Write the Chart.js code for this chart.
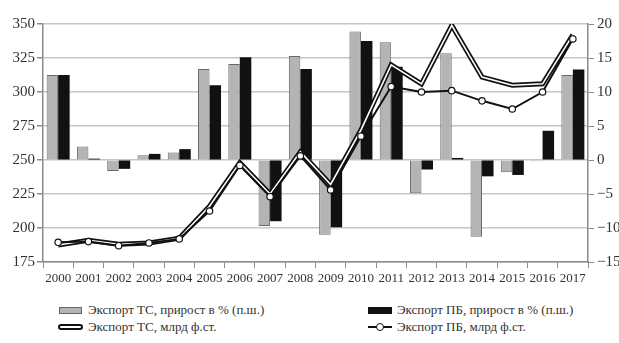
<!DOCTYPE html>
<html>
<head>
<meta charset="utf-8">
<script src="https://cdn.jsdelivr.net/npm/chart.js@4"></script>
<style>
  html, body { margin: 0; padding: 0; background: #fff; }
  #wrap { position: relative; width: 619px; height: 343px; overflow: hidden; font-family: "Liberation Serif", serif; color: #333; }
  #chartBox { position: absolute; left: 0; top: 0; width: 619px; height: 290px; }
  .lg { position: absolute; font-size: 13px; line-height: 14px; white-space: nowrap; color: #333; }
  .sym { position: absolute; box-sizing: border-box; }
</style>
</head>
<body>
<div id="wrap">
  <div id="chartBox"><canvas id="c" width="619" height="290"></canvas></div>

  <div class="sym" style="left:59px; top:307px; width:23px; height:7px; background:#b4b4b4; border:1px solid #666;"></div>
  <div class="lg" id="l1" style="left:88px; top:303px;"></div>
  <div class="sym" style="left:368px; top:307px; width:24px; height:7px; background:#111; border:1px solid #111;"></div>
  <div class="lg" id="l2" style="left:397px; top:303px;"></div>

  <div class="sym" style="left:58px; top:324px; width:25px; height:6px; background:#fff; border:2px solid #111; border-radius:3px;"></div>
  <div class="lg" id="l3" style="left:88px; top:320px;"></div>
  <div class="sym" style="left:368px; top:326px; width:24px; height:2px; background:#111;"></div>
  <div class="sym" style="left:376px; top:323px; width:8px; height:8px; background:#fff; border:1.5px solid #111; border-radius:50%;"></div>
  <div class="lg" id="l4" style="left:397px; top:320px;"></div>
</div>
<script>
// ---- data ----
const years = ["2000","2001","2002","2003","2004","2005","2006","2007","2008","2009","2010","2011","2012","2013","2014","2015","2016","2017"];
const tcGrowth = [12.5, 2.0, -1.6, 0.7, 1.1, 13.4, 14.1, -9.7, 15.3, -11.0, 18.9, 17.3, -4.9, 15.7, -11.3, -1.8, -0.2, 12.5];
const pbGrowth = [12.5, 0.2, -1.3, 0.9, 1.6, 11.0, 15.1, -9.0, 13.4, -9.9, 17.5, 13.7, -1.4, 0.3, -2.4, -2.2, 4.3, 13.3];
const tcExport = [187.5, 191, 188, 189, 192.5, 216, 248, 225, 256, 232, 272, 320, 306, 349, 311, 305, 306, 342];
const pbExport = [189.5, 190, 187, 189, 192, 212.5, 246, 223, 253, 228, 267.5, 304, 300, 301, 293.5, 287.5, 300, 339];
const legendLabels = ["Экспорт ТС, прирост в % (п.ш.)", "Экспорт ПБ, прирост в % (п.ш.)", "Экспорт ТС, млрд ф.ст.", "Экспорт ПБ, млрд ф.ст."];

document.getElementById('l1').textContent = legendLabels[0];
document.getElementById('l2').textContent = legendLabels[1];
document.getElementById('l3').textContent = legendLabels[2];
document.getElementById('l4').textContent = legendLabels[3];

const serif = "'Liberation Serif', 'Times New Roman', serif";
const axisCol = '#8a8a8a';

new Chart(document.getElementById('c'), {
  type: 'bar',
  data: {
    labels: years,
    datasets: [
      { type: 'line', label: legendLabels[3], data: pbExport, yAxisID: 'y', order: 1,
        borderColor: '#111', borderWidth: 2, tension: 0,
        pointRadius: 3.2, pointBackgroundColor: '#fff', pointBorderColor: '#111', pointBorderWidth: 1.2 },
      { type: 'line', label: legendLabels[2] + ' (inner)', data: tcExport, yAxisID: 'y', order: 2,
        borderColor: '#fff', borderWidth: 1.6, tension: 0, pointRadius: 0 },
      { type: 'line', label: legendLabels[2], data: tcExport, yAxisID: 'y', order: 3,
        borderColor: '#111', borderWidth: 5, tension: 0, pointRadius: 0 },
      { type: 'bar', label: legendLabels[0], data: tcGrowth, yAxisID: 'y2', order: 10,
        backgroundColor: '#b4b4b4', borderColor: '#6a6a6a', borderWidth: 1,
        categoryPercentage: 0.76, barPercentage: 1 },
      { type: 'bar', label: legendLabels[1], data: pbGrowth, yAxisID: 'y2', order: 11,
        backgroundColor: '#111', borderColor: '#111', borderWidth: 0,
        categoryPercentage: 0.76, barPercentage: 1 }
    ]
  },
  options: {
    responsive: false,
    animation: false,
    devicePixelRatio: 1,
    layout: { padding: { top: 24, left: 0, right: 0, bottom: 0 } },
    plugins: { legend: { display: false }, tooltip: { enabled: false } },
    scales: {
      x: {
        grid: { offset: true, drawOnChartArea: false, drawTicks: true, tickLength: 6, color: axisCol, lineWidth: 1 },
        border: { color: axisCol, width: 1.5 },
        ticks: { font: { family: serif, size: 13 }, color: '#333', padding: 3, maxRotation: 0, autoSkip: false },
        afterFit: s => { s.height = 28; }
      },
      y: {
        position: 'left', min: 175, max: 350,
        grid: { color: '#c6c6c6', lineWidth: 1.5, tickLength: 6, tickColor: axisCol },
        border: { color: axisCol, width: 1.5 },
        ticks: { stepSize: 25, font: { family: serif, size: 15 }, color: '#333', padding: 2 },
        afterFit: s => { s.width = 43; }
      },
      y2: {
        position: 'right', min: -15, max: 20,
        grid: { drawOnChartArea: false, tickLength: 6, color: axisCol },
        border: { color: axisCol, width: 1.5 },
        ticks: { stepSize: 5, font: { family: serif, size: 15 }, color: '#333', padding: 3,
                 callback: v => String(v).replace('-', '\u2212') },
        afterFit: s => { s.width = 31; }
      }
    }
  }
});
</script>
</body>
</html>
